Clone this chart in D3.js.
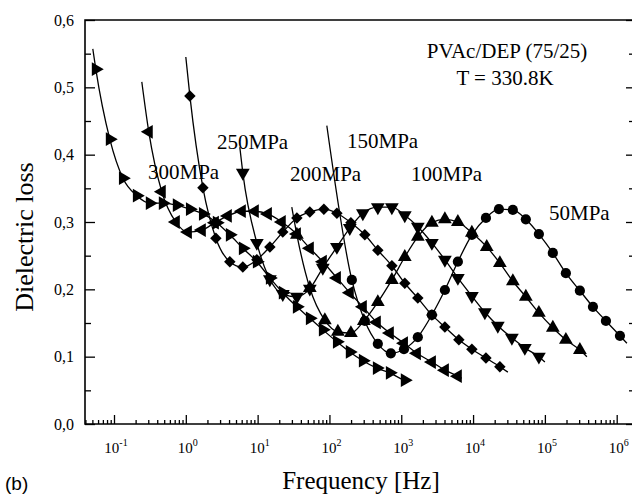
<!DOCTYPE html>
<html><head><meta charset="utf-8">
<script src="https://cdn.jsdelivr.net/npm/d3@7"></script>
<style>body{margin:0;background:#fff;overflow:hidden}</style>
</head><body><svg id="c" width="632" height="495"></svg>
<script>
// ---- data ----
const yTickValues = [0, 0.1, 0.2, 0.3, 0.4, 0.5, 0.6];
const yTickLabels = ["0,0", "0,1", "0,2", "0,3", "0,4", "0,5", "0,6"];
const xTickExponents = ["-1", "0", "1", "2", "3", "4", "5", "6"];

const seriesNames = ["300MPa", "250MPa", "200MPa", "150MPa", "100MPa", "50MPa"];

const f300 = [0.0558, 0.0874, 0.133, 0.208, 0.315, 0.478, 0.749, 1.14, 1.73, 2.70, 4.10, 6.22, 9.75, 14.8, 22.4, 35.2, 53.3, 80.9, 127, 192, 292, 457, 694, 1120];
const v300 = [0.527, 0.423, 0.365, 0.339, 0.328, 0.328, 0.325, 0.319, 0.312, 0.299, 0.281, 0.261, 0.241, 0.217, 0.195, 0.174, 0.157, 0.140, 0.122, 0.107, 0.094, 0.083, 0.076, 0.065];

const f250 = [0.305, 0.463, 0.726, 1.07, 1.67, 2.54, 3.85, 6.03, 9.14, 13.9, 21.7, 35.2, 53.3, 80.9, 127, 192, 292, 457, 694, 1090, 1650, 2670, 4050, 6140];
const v250 = [0.434, 0.345, 0.300, 0.285, 0.288, 0.299, 0.309, 0.316, 0.316, 0.312, 0.300, 0.282, 0.261, 0.241, 0.217, 0.195, 0.174, 0.151, 0.135, 0.120, 0.105, 0.092, 0.080, 0.071];

const f200 = [1.14, 1.73, 2.62, 4.10, 6.22, 9.75, 14.8, 22.4, 35.2, 53.3, 83.6, 127, 199, 311, 472, 740, 1120, 1700, 2670, 4050, 6340, 9620, 15100, 23600];
const v200 = [0.487, 0.351, 0.276, 0.241, 0.233, 0.244, 0.263, 0.285, 0.306, 0.315, 0.319, 0.313, 0.299, 0.281, 0.258, 0.235, 0.209, 0.187, 0.162, 0.144, 0.125, 0.111, 0.098, 0.085];

const f150 = [6.22, 9.75, 14.8, 22.4, 35.2, 53.3, 80.9, 127, 192, 292, 472, 740, 1120, 1700, 2670, 4050, 6140, 9620, 14600, 22100, 34700, 52600, 82500];
const v150 = [0.373, 0.269, 0.215, 0.193, 0.189, 0.201, 0.232, 0.263, 0.291, 0.313, 0.322, 0.322, 0.310, 0.293, 0.269, 0.244, 0.217, 0.190, 0.166, 0.146, 0.128, 0.113, 0.100];

const f100 = [35.2, 53.3, 86.3, 131, 199, 301, 472, 740, 1120, 1700, 2670, 4050, 6140, 9620, 15500, 23600, 35800, 54300, 82500, 129000, 196000, 307000];
const v100 = [0.281, 0.202, 0.154, 0.137, 0.135, 0.153, 0.181, 0.214, 0.248, 0.278, 0.299, 0.304, 0.300, 0.284, 0.263, 0.239, 0.212, 0.189, 0.165, 0.143, 0.125, 0.110];

const f50 = [205, 311, 472, 716, 1090, 1700, 2670, 4050, 6140, 9620, 15100, 22900, 35800, 54300, 82500, 129000, 196000, 307000, 467000, 708000, 1110000];
const v50 = [0.214, 0.153, 0.119, 0.105, 0.111, 0.129, 0.162, 0.199, 0.241, 0.281, 0.306, 0.319, 0.318, 0.304, 0.282, 0.254, 0.224, 0.198, 0.174, 0.153, 0.131];

// fitted-curve end points (line only, no marker)
const fitStartF = [0.0507, 0.244, 1.0, 5.65, 29.9, 92.0];
const fitStartV = [0.557, 0.508, 0.545, 0.411, 0.322, 0.443];
const fitEndF = [1236, 6982, 30530, 100000, 384500, 1387000];
const fitEndV = [0.064, 0.068, 0.077, 0.092, 0.100, 0.120];

const titleLines = ["PVAc/DEP (75/25)", "T = 330.8K"];

// ---- layout ----
const L = 85, R = 634, T = 20, B = 424;
const svg = d3.select("#c");
const decade = (616.7 - 114) / 7;
const x = d3.scaleLog()
  .domain([Math.pow(10, -1 - (114 - L) / decade), Math.pow(10, 6 + (R - 616.7) / decade)])
  .range([L, R]);
const y = d3.scaleLinear().domain([0, 0.6]).range([B, T]);

const serif = "'Liberation Serif','Times New Roman',serif";

// series
const F = [f300, f250, f200, f150, f100, f50];
const V = [v300, v250, v200, v150, v100, v50];
const markerType = [
  {sym: d3.symbolTriangle, rot: 90, size: 82},
  {sym: d3.symbolTriangle, rot: -90, size: 82},
  {sym: d3.symbolSquare, rot: 45, size: 66},
  {sym: d3.symbolTriangle, rot: 180, size: 82},
  {sym: d3.symbolTriangle, rot: 0, size: 82},
  {sym: d3.symbolCircle, rot: 0, size: 82}
];
const line = d3.line().x(d => x(d[0])).y(d => y(d[1])).curve(d3.curveMonotoneX);

const plot = svg.append("g");
F.forEach((fs, i) => {
  const pts = fs.map((f, j) => [f, V[i][j]]);
  const full = [[fitStartF[i], fitStartV[i]], ...pts, [fitEndF[i], fitEndV[i]]];
  plot.append("path").attr("d", line(full)).attr("fill", "none")
    .attr("stroke", "#000").attr("stroke-width", 1.3);
  const m = markerType[i];
  plot.append("g").selectAll("path").data(pts).join("path")
    .attr("d", d3.symbol().type(m.sym).size(m.size)())
    .attr("transform", d => `translate(${x(d[0])},${y(d[1])}) rotate(${m.rot})`)
    .attr("fill", "#000");
});

// axes
const axG = svg.append("g");
const minorX = [];
for (let e = -2; e <= 6; e++) for (let k = 2; k <= 9; k++) {
  const v = k * Math.pow(10, e);
  if (v >= x.domain()[0] && v <= x.domain()[1]) minorX.push(v);
}
const majorX = xTickExponents.map(e => Math.pow(10, +e));
axG.append("g").attr("transform", `translate(0,${B})`)
  .call(d3.axisBottom(x).tickValues(minorX).tickSize(-4).tickFormat(""));
axG.append("g").attr("transform", `translate(0,${B})`)
  .call(d3.axisBottom(x).tickValues(majorX).tickSize(-9).tickFormat(""));
const minorY = d3.range(0.05, 0.6, 0.1);
axG.append("g").attr("transform", `translate(${L},0)`)
  .call(d3.axisLeft(y).tickValues(minorY).tickSize(-6).tickFormat(""));
axG.append("g").attr("transform", `translate(${L},0)`)
  .call(d3.axisLeft(y).tickValues(yTickValues).tickSize(-10).tickFormat(""));
axG.append("g").attr("transform", `translate(${R},0)`)
  .call(d3.axisRight(y).tickValues(minorY).tickSize(-5).tickFormat(""));
axG.append("g").attr("transform", `translate(${R},0)`)
  .call(d3.axisRight(y).tickValues(yTickValues).tickSize(-8).tickFormat(""));
axG.selectAll(".domain").remove();
axG.selectAll(".tick line").attr("stroke", "#000").attr("stroke-width", 1.3);
svg.append("path").attr("d", `M${L},${T}H${R}V${B}H${L}Z`)
  .attr("fill", "none").attr("stroke", "#000").attr("stroke-width", 1.6);

// tick labels
svg.append("g").selectAll("text").data(yTickValues).join("text")
  .attr("x", 74).attr("y", d => y(d) + 5.5).attr("text-anchor", "end")
  .attr("font-family", serif).attr("font-size", 16).text((d, i) => yTickLabels[i]);
const xl = svg.append("g").selectAll("text").data(xTickExponents).join("text")
  .attr("x", d => x(Math.pow(10, +d)) + 2).attr("y", 453).attr("text-anchor", "middle")
  .attr("font-family", serif).attr("font-size", 15);
xl.append("tspan").text("10");
xl.append("tspan").attr("dy", -7).attr("font-size", 10).text(d => d);

// axis titles
svg.append("text").attr("x", 361).attr("y", 489).attr("text-anchor", "middle")
  .attr("font-family", serif).attr("font-size", 25).text("Frequency [Hz]");
svg.append("text").attr("transform", "translate(33,237) rotate(-90)").attr("text-anchor", "middle")
  .attr("font-family", serif).attr("font-size", 26).text("Dielectric loss");
svg.append("text").attr("x", 5).attr("y", 490)
  .attr("font-family", "'Liberation Sans',Arial,sans-serif").attr("font-size", 19).text("(b)");

// annotations
svg.append("text").attr("x", 507).attr("y", 58).attr("text-anchor", "middle")
  .attr("font-family", serif).attr("font-size", 21).text(titleLines[0]);
svg.append("text").attr("x", 505).attr("y", 85).attr("text-anchor", "middle")
  .attr("font-family", serif).attr("font-size", 21).text(titleLines[1]);
const labelPos = [[148, 179], [217, 149], [290, 181], [347, 148], [411, 181], [549, 220]];
svg.append("g").selectAll("text").data(seriesNames).join("text")
  .attr("x", (d, i) => labelPos[i][0]).attr("y", (d, i) => labelPos[i][1])
  .attr("font-family", serif).attr("font-size", 21).text(d => d);
</script></body></html>
